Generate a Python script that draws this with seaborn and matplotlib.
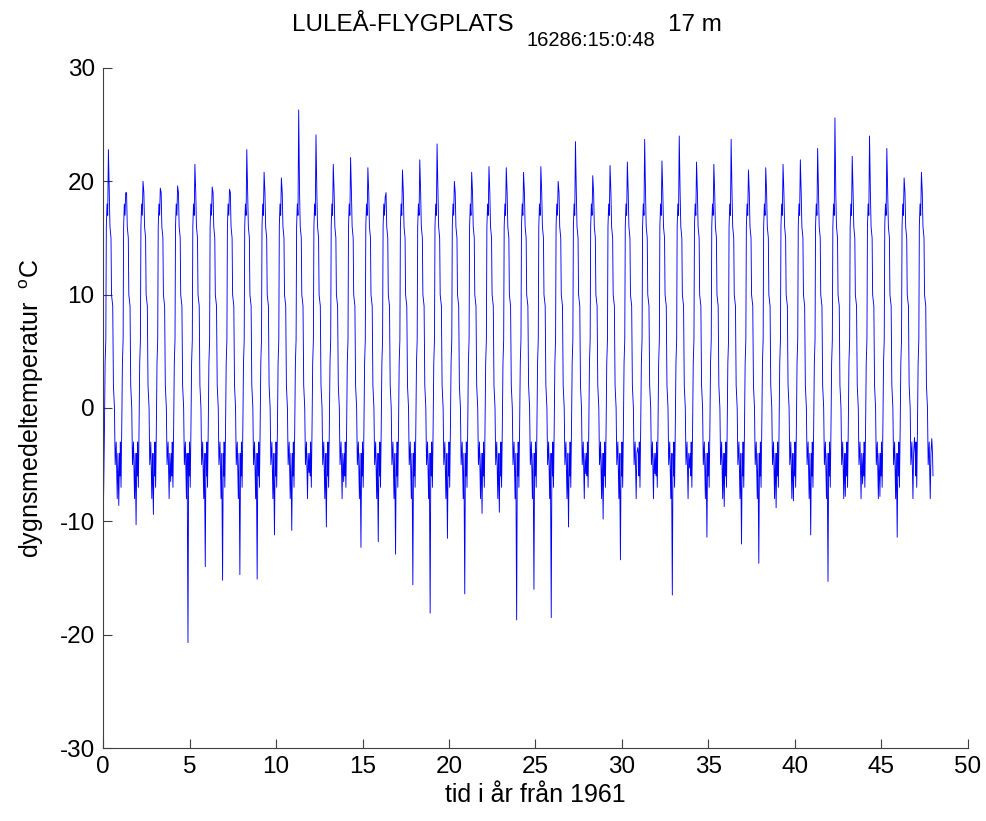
import numpy as np
import pandas as pd
import matplotlib
matplotlib.use('Agg')
import matplotlib.pyplot as plt
import seaborn as sns

# sommarens toppvärde per år (år 0..47 från 1961)
peaks = [22.8, 19.0, 20.0, 19.4, 19.6, 21.5, 19.5, 19.3, 22.8, 20.8, 20.3, 26.3,
         24.1, 21.5, 22.1, 21.2, 18.6, 21.0, 21.9, 23.3, 20.0, 20.8, 21.3, 21.2,
         20.8, 21.3, 20.0, 23.5, 20.5, 21.4, 21.7, 23.7, 21.8, 24.0, 21.7, 21.5,
         23.7, 21.0, 21.2, 21.5, 21.9, 22.9, 25.6, 22.2, 24.0, 22.9, 20.3, 20.8]

# vinterns lägsta värde efter varje sommar
winters = [-8.6, -10.3, -9.4, -6.5, -20.7, -14.0, -15.2, -14.7, -15.1, -11.2, -10.8, -5.7,
           -10.5, -6.5, -12.3, -11.8, -12.9, -15.6, -18.1, -11.5, -16.4, -9.3, -9.2, -18.7,
           -16.0, -18.5, -10.5, -5.8, -9.8, -13.4, -3.5, -5.8, -16.5, -5.3, -11.4, -8.7,
           -12.0, -13.7, -8.8, -8.2, -11.2, -15.3, -7.8, -6.7, -7.8, -11.4, -2.6, -2.7]

start_temp = -11.5

# typiskt förlopp inom ett år (andel av året, temperatur); 'P' = topp, 'W' = vinterminimum
season_frac = [0.00, 0.04, 0.08, 0.12, 0.16, 0.19, 0.23, 0.27, 0.31, 0.36, 0.40, 0.46,
               0.49, 0.56, 0.60, 0.66, 0.70, 0.76, 0.82, 0.86, 0.91, 0.95, 0.98]
season_level = [-3, -7, -2, 4, 6, 16, 18, 17, 'P', 19, 16, 15,
                10, 9, 2, 0, -5, -3, -8, -4, 'W', -4, -6]

xs, ys = [], []
for k in range(len(peaks)):
    for f, lev in zip(season_frac, season_level):
        if lev == 'P':
            v = peaks[k]
        elif lev == 'W':
            v = winters[k]
        else:
            v = lev
        if k == 0 and f == 0:
            v = start_temp
        xs.append(k + f)
        ys.append(v)
df = pd.DataFrame({'tid': xs, 'temp': ys})

sns.set_style('white')
plt.rcParams['font.family'] = ['Liberation Sans', 'DejaVu Sans']
plt.rcParams['mathtext.fontset'] = 'custom'
plt.rcParams['mathtext.rm'] = 'Liberation Sans'
plt.rcParams['axes.unicode_minus'] = False
plt.rcParams['text.color'] = 'black'
plt.rcParams['axes.labelcolor'] = 'black'

fig = plt.figure(figsize=(9.87, 8.21), dpi=100)
ax = fig.add_axes([0.1044, 0.0889, 0.8763, 0.8283])

sns.lineplot(data=df, x='tid', y='temp', sort=False, estimator=None,
             color='#0000FF', linewidth=0.65, ax=ax)

ax.set_xlim(0, 50)
ax.set_ylim(-30, 30)
ax.set_xticks(range(0, 51, 5))
ax.set_yticks(range(-30, 31, 10))
ax.tick_params(bottom=True, left=True, direction='in', length=6.5, width=0.8,
               color='#404040', labelsize=17.5, labelcolor='black', pad=6)
for s in ['top', 'right']:
    ax.spines[s].set_visible(False)
for s in ['left', 'bottom']:
    ax.spines[s].set_color('#404040')
    ax.spines[s].set_linewidth(0.8)

ax.set_xlabel('tid i år från 1961', fontsize=18, labelpad=3)
ax.set_ylabel('dygnsmedeltemperatur  $^{\\mathrm{o}}$C', fontsize=18, labelpad=10)

# titel i tre delar som i originalet
fig.text(514 / 987, 1 - 25 / 821, 'LULEÅ-FLYGPLATS', ha='right', va='center', fontsize=17.5)
fig.text(527 / 987, 1 - 40 / 821, '16286:15:0:48', ha='left', va='center', fontsize=14.5)
fig.text(668 / 987, 1 - 25 / 821, '17 m', ha='left', va='center', fontsize=17.5)

fig.savefig('out.png', dpi=100)
